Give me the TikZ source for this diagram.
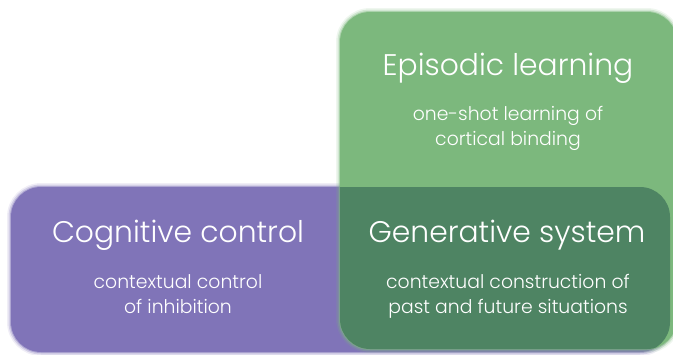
\documentclass[tikz,border=0pt]{standalone}
\usepackage{fontspec}
\setmainfont{Poppins}[UprightFont=* Light]
\usetikzlibrary{positioning}

\definecolor{episodic}{RGB}{124,184,125}
\definecolor{cognitive}{RGB}{128,116,184}
\definecolor{generative}{RGB}{78,132,99}

\begin{document}
\begin{tikzpicture}[x=1pt,y=-1pt]

    \tikzset{
      heading/.style={
        text=white,
        font=\fontsize{29.8}{30}\selectfont,
        anchor=base,
        inner sep=0pt,
      },
      detail/.style={
        text=white,
        font=\fontsize{18.8}{25}\selectfont,
        align=center,
        anchor=base,
        inner sep=0pt,
      },
      soft/.style={rounded corners=30pt},
    }
    \useasboundingbox (0,0) rectangle (673,354);

	\foreach \w/\o in {8/0.12,5/0.25,2/0.45}
	  \draw[soft,color=cognitive,line width=\w,opacity=\o] (11,187) rectangle (670,352);
	\fill[soft,color=cognitive] (11,187) rectangle (670,352);
	\foreach \w/\o in {8/0.12,5/0.25,2/0.45}
	  \draw[soft,color=episodic,line width=\w,opacity=\o] (340,12) rectangle (677,349);
	\fill[soft,color=episodic] (340,12) rectangle (677,349);
	\begin{scope}
	  \clip[soft] (340,12) rectangle (677,349);
	  \fill[soft,color=generative] (11,187) rectangle (670,352);
	\end{scope}

	\node[heading] (episodic) at (508,75) {Episodic learning};
	\node[detail] (episodicdetail) at (508,145) {one-shot learning of\\cortical binding};
	\node[heading] (cognitive) at (178,242) {Cognitive control};
	\node[detail] (cognitivedetail) at (178,313) {contextual control\\of inhibition};
	\node[heading] (generative) at (507,242) {Generative system};
	\node[detail] (generativedetail) at (508,313) {contextual construction of\\past and future situations};

\end{tikzpicture}
\end{document}
